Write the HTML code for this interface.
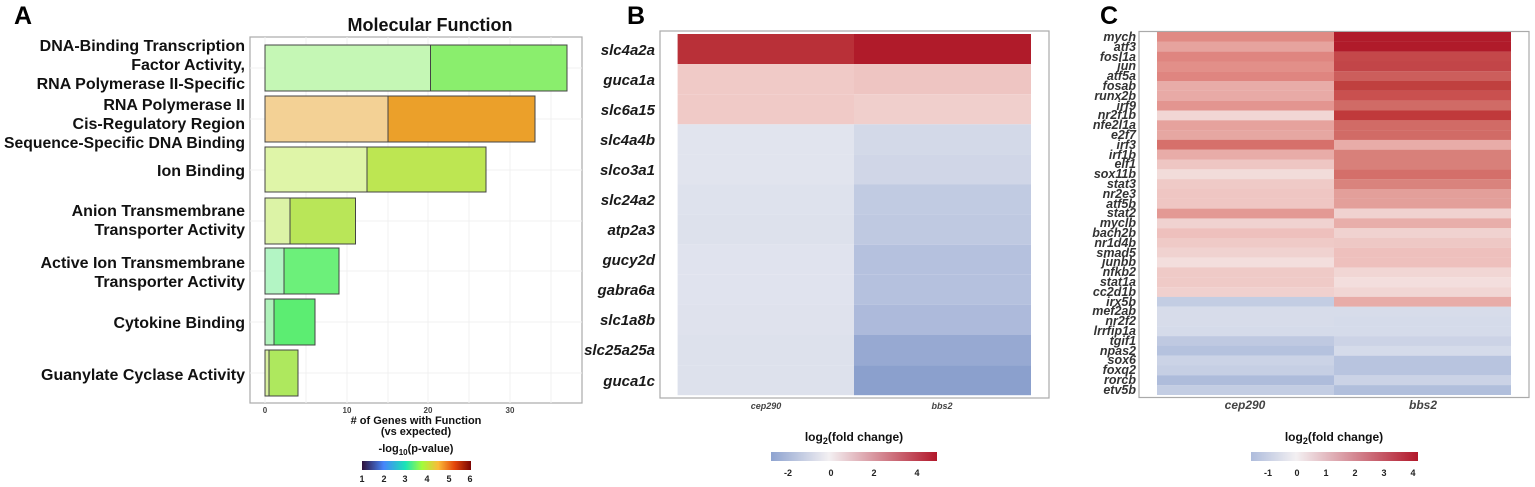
<!DOCTYPE html>
<html><head><meta charset="utf-8"><style>
body{margin:0;background:#fff}
svg{display:block}
text{font-family:"Liberation Sans",Arial,sans-serif;font-weight:bold}
.la{font-size:16px;fill:#111;text-anchor:end}
.lb{font-size:15px;fill:#1a1a1a;font-style:italic;text-anchor:end}
.lc{font-size:12.5px;fill:#333;font-style:italic;text-anchor:end}
</style></head><body>
<svg width="1535" height="487" viewBox="0 0 1535 487" xmlns="http://www.w3.org/2000/svg">
<defs>
<linearGradient id="gA" x1="0" x2="1"><stop offset="0" stop-color="#30123b"/><stop offset="0.2" stop-color="#4686fb"/><stop offset="0.4" stop-color="#1ae4b6"/><stop offset="0.55" stop-color="#a2fc3c"/><stop offset="0.7" stop-color="#fabb39"/><stop offset="0.85" stop-color="#e4460a"/><stop offset="1" stop-color="#7a0403"/></linearGradient>
<linearGradient id="gB" x1="0" x2="1"><stop offset="0" stop-color="#8ea3d0"/><stop offset="0.35" stop-color="#f3f0f2"/><stop offset="1" stop-color="#b2182b"/></linearGradient>
<linearGradient id="gC" x1="0" x2="1"><stop offset="0" stop-color="#aebcdc"/><stop offset="0.27" stop-color="#f3f0f2"/><stop offset="1" stop-color="#b2182b"/></linearGradient>
</defs>
<!-- Panel A -->
<text x="14" y="24" style="font-size:25px">A</text>
<text x="430" y="31" text-anchor="middle" style="font-size:18px" fill="#111">Molecular Function</text>
<rect x="250" y="37" width="332" height="366" fill="#fff" stroke="#aaa" stroke-width="1.2"/>
<g stroke="#f0f0f0" stroke-width="1">
<line x1="265" y1="37" x2="265" y2="403"/><line x1="347" y1="37" x2="347" y2="403"/><line x1="428" y1="37" x2="428" y2="403"/><line x1="510" y1="37" x2="510" y2="403"/>
<line x1="306" y1="37" x2="306" y2="403"/><line x1="388" y1="37" x2="388" y2="403"/><line x1="469" y1="37" x2="469" y2="403"/><line x1="551" y1="37" x2="551" y2="403"/>
<line x1="250" y1="68" x2="582" y2="68"/><line x1="250" y1="119" x2="582" y2="119"/><line x1="250" y1="170" x2="582" y2="170"/><line x1="250" y1="221" x2="582" y2="221"/><line x1="250" y1="271" x2="582" y2="271"/><line x1="250" y1="322" x2="582" y2="322"/><line x1="250" y1="373" x2="582" y2="373"/>
</g>
<g stroke="#444" stroke-width="1">
<rect x="265" y="45" width="165.5" height="46" fill="#c5f7b5"/><rect x="430.5" y="45" width="136.5" height="46" fill="#8aee6d"/>
<rect x="265" y="96" width="123" height="46" fill="#f3d195"/><rect x="388" y="96" width="147" height="46" fill="#eba02a"/>
<rect x="265" y="147" width="102" height="45" fill="#dff5a8"/><rect x="367" y="147" width="119" height="45" fill="#bde652"/>
<rect x="265" y="198" width="25" height="46" fill="#dcf3a6"/><rect x="290" y="198" width="65.5" height="46" fill="#b9e658"/>
<rect x="265" y="248" width="19" height="46" fill="#b3f5c4"/><rect x="284" y="248" width="55" height="46" fill="#6cf07a"/>
<rect x="265" y="299" width="9" height="46" fill="#b0f2bb"/><rect x="274" y="299" width="41" height="46" fill="#5ced72"/>
<rect x="265" y="350" width="4" height="46" fill="#d9f0a0"/><rect x="269" y="350" width="29" height="46" fill="#aee85e"/>
</g>
<g class="la">
<text x="245" y="51">DNA-Binding Transcription</text>
<text x="245" y="70">Factor Activity,</text>
<text x="245" y="89">RNA Polymerase II-Specific</text>
<text x="245" y="110">RNA Polymerase II</text>
<text x="245" y="129">Cis-Regulatory Region</text>
<text x="245" y="148" textLength="241" lengthAdjust="spacingAndGlyphs">Sequence-Specific DNA Binding</text>
<text x="245" y="176">Ion Binding</text>
<text x="245" y="216">Anion Transmembrane</text>
<text x="245" y="235">Transporter Activity</text>
<text x="245" y="268">Active Ion Transmembrane</text>
<text x="245" y="287">Transporter Activity</text>
<text x="245" y="328">Cytokine Binding</text>
<text x="245" y="380">Guanylate Cyclase Activity</text>
</g>
<g style="font-size:8px" fill="#444" text-anchor="middle">
<text x="265" y="413">0</text><text x="347" y="413">10</text><text x="428" y="413">20</text><text x="510" y="413">30</text>
</g>
<text x="416" y="424" text-anchor="middle" style="font-size:11px" fill="#111">#​ of Genes with Function</text>
<text x="416" y="435" text-anchor="middle" style="font-size:11px" fill="#111">(vs expected)</text>
<text x="416" y="452" text-anchor="middle" style="font-size:11px" fill="#111">-log<tspan dy="3" style="font-size:8px">10</tspan><tspan dy="-3">(p-value)</tspan></text>
<rect x="362" y="461" width="109" height="9" fill="url(#gA)"/>
<g style="font-size:9px" fill="#222" text-anchor="middle">
<text x="362" y="482">1</text><text x="384" y="482">2</text><text x="405" y="482">3</text><text x="427" y="482">4</text><text x="449" y="482">5</text><text x="470" y="482">6</text>
</g>

<!-- Panel B -->
<text x="627" y="24" style="font-size:25px">B</text>
<rect x="660" y="31" width="389" height="367" fill="#fff" stroke="#aaa" stroke-width="1.2"/>
<g>
<rect x="677.6" y="34" width="176.4" height="30.1" fill="#b93038"/><rect x="854" y="34" width="177" height="30.1" fill="#b01b2a"/>
<rect x="677.6" y="64.1" width="176.4" height="30.1" fill="#f0cac7"/><rect x="854" y="64.1" width="177" height="30.1" fill="#eec5c2"/>
<rect x="677.6" y="94.2" width="176.4" height="30.1" fill="#f0cac7"/><rect x="854" y="94.2" width="177" height="30.1" fill="#f0cfcc"/>
<rect x="677.6" y="124.3" width="176.4" height="30.1" fill="#e1e4ee"/><rect x="854" y="124.3" width="177" height="30.1" fill="#d3d9e8"/>
<rect x="677.6" y="154.4" width="176.4" height="30.1" fill="#e1e4ee"/><rect x="854" y="154.4" width="177" height="30.1" fill="#d0d6e7"/>
<rect x="677.6" y="184.5" width="176.4" height="30.1" fill="#dee2ed"/><rect x="854" y="184.5" width="177" height="30.1" fill="#c1cbe2"/>
<rect x="677.6" y="214.6" width="176.4" height="30.1" fill="#dde1ec"/><rect x="854" y="214.6" width="177" height="30.1" fill="#bfc9e1"/>
<rect x="677.6" y="244.7" width="176.4" height="30.1" fill="#e0e3ee"/><rect x="854" y="244.7" width="177" height="30.1" fill="#b5c1de"/>
<rect x="677.6" y="274.8" width="176.4" height="30.1" fill="#e0e3ee"/><rect x="854" y="274.8" width="177" height="30.1" fill="#b5c1de"/>
<rect x="677.6" y="304.9" width="176.4" height="30.1" fill="#dfe2ed"/><rect x="854" y="304.9" width="177" height="30.1" fill="#adbadb"/>
<rect x="677.6" y="335" width="176.4" height="30.1" fill="#dde1ec"/><rect x="854" y="335" width="177" height="30.1" fill="#97a9d2"/>
<rect x="677.6" y="365.1" width="176.4" height="30.1" fill="#dde1ec"/><rect x="854" y="365.1" width="177" height="30.1" fill="#8ba0cd"/>
</g>
<g class="lb">
<text x="655" y="55">slc4a2a</text><text x="655" y="85">guca1a</text><text x="655" y="115">slc6a15</text><text x="655" y="145">slc4a4b</text>
<text x="655" y="175">slco3a1</text><text x="655" y="205">slc24a2</text><text x="655" y="235">atp2a3</text><text x="655" y="265">gucy2d</text>
<text x="655" y="295">gabra6a</text><text x="655" y="325">slc1a8b</text><text x="655" y="355">slc25a25a</text><text x="655" y="386">guca1c</text>
</g>
<g style="font-size:9px;font-style:italic" fill="#444" text-anchor="middle">
<text x="766" y="409">cep290</text><text x="942" y="409">bbs2</text>
</g>
<text x="854" y="441" text-anchor="middle" style="font-size:12px" fill="#111">log<tspan dy="3" style="font-size:9px">2</tspan><tspan dy="-3">(fold change)</tspan></text>
<rect x="771" y="452" width="166" height="9" fill="url(#gB)"/>
<g style="font-size:9px" fill="#222" text-anchor="middle">
<text x="788" y="476">-2</text><text x="831" y="476">0</text><text x="874" y="476">2</text><text x="917" y="476">4</text>
</g>

<!-- Panel C -->
<text x="1100" y="24" style="font-size:25px">C</text>
<rect x="1139" y="31.5" width="390" height="366" fill="#fff" stroke="#aaa" stroke-width="1.2"/>
<g>
<rect x="1157" y="32" width="177" height="9.9" fill="#e08a84"/><rect x="1334" y="32" width="177" height="9.9" fill="#b01b2a"/>
<rect x="1157" y="41.8" width="177" height="9.9" fill="#e6a39e"/><rect x="1334" y="41.8" width="177" height="9.9" fill="#b01b2a"/>
<rect x="1157" y="51.6" width="177" height="9.9" fill="#df8580"/><rect x="1334" y="51.6" width="177" height="9.9" fill="#c4484a"/>
<rect x="1157" y="61.4" width="177" height="9.9" fill="#e28f89"/><rect x="1334" y="61.4" width="177" height="9.9" fill="#c24548"/>
<rect x="1157" y="71.2" width="177" height="9.9" fill="#df8580"/><rect x="1334" y="71.2" width="177" height="9.9" fill="#cc5e5c"/>
<rect x="1157" y="81" width="177" height="9.9" fill="#e8aca8"/><rect x="1334" y="81" width="177" height="9.9" fill="#c0403f"/>
<rect x="1157" y="90.9" width="177" height="9.9" fill="#e8aaa6"/><rect x="1334" y="90.9" width="177" height="9.9" fill="#c9504f"/>
<rect x="1157" y="100.7" width="177" height="9.9" fill="#e39590"/><rect x="1334" y="100.7" width="177" height="9.9" fill="#d06b66"/>
<rect x="1157" y="110.5" width="177" height="9.9" fill="#f1d6d4"/><rect x="1334" y="110.5" width="177" height="9.9" fill="#c0393b"/>
<rect x="1157" y="120.3" width="177" height="9.9" fill="#e6a29d"/><rect x="1334" y="120.3" width="177" height="9.9" fill="#d16b66"/>
<rect x="1157" y="130.1" width="177" height="9.9" fill="#e6a7a2"/><rect x="1334" y="130.1" width="177" height="9.9" fill="#d16b66"/>
<rect x="1157" y="139.9" width="177" height="9.9" fill="#d6706b"/><rect x="1334" y="139.9" width="177" height="9.9" fill="#e8aca8"/>
<rect x="1157" y="149.7" width="177" height="9.9" fill="#e8aca8"/><rect x="1334" y="149.7" width="177" height="9.9" fill="#d8807a"/>
<rect x="1157" y="159.5" width="177" height="9.9" fill="#eec6c3"/><rect x="1334" y="159.5" width="177" height="9.9" fill="#d8807a"/>
<rect x="1157" y="169.3" width="177" height="9.9" fill="#f2dcda"/><rect x="1334" y="169.3" width="177" height="9.9" fill="#d46f6a"/>
<rect x="1157" y="179.1" width="177" height="9.9" fill="#efcac7"/><rect x="1334" y="179.1" width="177" height="9.9" fill="#d9837d"/>
<rect x="1157" y="189" width="177" height="9.9" fill="#efc6c3"/><rect x="1334" y="189" width="177" height="9.9" fill="#e39f9a"/>
<rect x="1157" y="198.8" width="177" height="9.9" fill="#efc6c3"/><rect x="1334" y="198.8" width="177" height="9.9" fill="#e39f9a"/>
<rect x="1157" y="208.6" width="177" height="9.9" fill="#e39994"/><rect x="1334" y="208.6" width="177" height="9.9" fill="#f0d2d0"/>
<rect x="1157" y="218.4" width="177" height="9.9" fill="#f0d2d0"/><rect x="1334" y="218.4" width="177" height="9.9" fill="#e8aeaa"/>
<rect x="1157" y="228.2" width="177" height="9.9" fill="#eec0bd"/><rect x="1334" y="228.2" width="177" height="9.9" fill="#f0d2d0"/>
<rect x="1157" y="238" width="177" height="9.9" fill="#efcac7"/><rect x="1334" y="238" width="177" height="9.9" fill="#eec8c5"/>
<rect x="1157" y="247.8" width="177" height="9.9" fill="#f0d2d0"/><rect x="1334" y="247.8" width="177" height="9.9" fill="#eec0bd"/>
<rect x="1157" y="257.6" width="177" height="9.9" fill="#f3dedd"/><rect x="1334" y="257.6" width="177" height="9.9" fill="#eec0bd"/>
<rect x="1157" y="267.4" width="177" height="9.9" fill="#efcac7"/><rect x="1334" y="267.4" width="177" height="9.9" fill="#f1d6d4"/>
<rect x="1157" y="277.2" width="177" height="9.9" fill="#efcac7"/><rect x="1334" y="277.2" width="177" height="9.9" fill="#f3dedd"/>
<rect x="1157" y="287.1" width="177" height="9.9" fill="#f0d0ce"/><rect x="1334" y="287.1" width="177" height="9.9" fill="#f1d6d4"/>
<rect x="1157" y="296.9" width="177" height="9.9" fill="#c3cde3"/><rect x="1334" y="296.9" width="177" height="9.9" fill="#e8aca8"/>
<rect x="1157" y="306.7" width="177" height="9.9" fill="#d7dcea"/><rect x="1334" y="306.7" width="177" height="9.9" fill="#d7dcea"/>
<rect x="1157" y="316.5" width="177" height="9.9" fill="#d7dcea"/><rect x="1334" y="316.5" width="177" height="9.9" fill="#d5dbea"/>
<rect x="1157" y="326.3" width="177" height="9.9" fill="#d5dbea"/><rect x="1334" y="326.3" width="177" height="9.9" fill="#d5dbea"/>
<rect x="1157" y="336.1" width="177" height="9.9" fill="#bfc9e1"/><rect x="1334" y="336.1" width="177" height="9.9" fill="#ccd3e6"/>
<rect x="1157" y="345.9" width="177" height="9.9" fill="#b5c2de"/><rect x="1334" y="345.9" width="177" height="9.9" fill="#d5dbea"/>
<rect x="1157" y="355.7" width="177" height="9.9" fill="#cbd3e6"/><rect x="1334" y="355.7" width="177" height="9.9" fill="#b8c4df"/>
<rect x="1157" y="365.5" width="177" height="9.9" fill="#c6cfe4"/><rect x="1334" y="365.5" width="177" height="9.9" fill="#b8c4df"/>
<rect x="1157" y="375.3" width="177" height="9.9" fill="#aebcdb"/><rect x="1334" y="375.3" width="177" height="9.9" fill="#cbd3e6"/>
<rect x="1157" y="385.1" width="177" height="9.9" fill="#c3cde3"/><rect x="1334" y="385.1" width="177" height="9.9" fill="#b1bfdc"/>
</g>
<g class="lc">
<text x="1136" y="41">mych</text><text x="1136" y="51">atf3</text><text x="1136" y="61">fosl1a</text><text x="1136" y="70">jun</text>
<text x="1136" y="80">atf5a</text><text x="1136" y="90">fosab</text><text x="1136" y="100">runx2b</text><text x="1136" y="110">irf9</text>
<text x="1136" y="119">nr2f1b</text><text x="1136" y="129">nfe2l1a</text><text x="1136" y="139">e2f7</text><text x="1136" y="149">irf3</text>
<text x="1136" y="159">irf1b</text><text x="1136" y="168">elf1</text><text x="1136" y="178">sox11b</text><text x="1136" y="188">stat3</text>
<text x="1136" y="198">nr2e3</text><text x="1136" y="208">atf5b</text><text x="1136" y="217">stat2</text><text x="1136" y="227">myclb</text>
<text x="1136" y="237">bach2b</text><text x="1136" y="247">nr1d4b</text><text x="1136" y="257">smad5</text><text x="1136" y="266">junbb</text>
<text x="1136" y="276">nfkb2</text><text x="1136" y="286">stat1a</text><text x="1136" y="296">cc2d1b</text><text x="1136" y="306">irx5b</text>
<text x="1136" y="315">mef2ab</text><text x="1136" y="325">nr2f2</text><text x="1136" y="335">lrrfip1a</text><text x="1136" y="345">tgif1</text>
<text x="1136" y="355">npas2</text><text x="1136" y="364">sox6</text><text x="1136" y="374">foxq2</text><text x="1136" y="384">rorcb</text>
<text x="1136" y="394">etv5b</text>
</g>
<g style="font-size:12px;font-style:italic" fill="#444" text-anchor="middle">
<text x="1245" y="409">cep290</text><text x="1423" y="409">bbs2</text>
</g>
<text x="1334" y="441" text-anchor="middle" style="font-size:12px" fill="#111">log<tspan dy="3" style="font-size:9px">2</tspan><tspan dy="-3">(fold change)</tspan></text>
<rect x="1251" y="452" width="167" height="9" fill="url(#gC)"/>
<g style="font-size:9px" fill="#222" text-anchor="middle">
<text x="1268" y="476">-1</text><text x="1297" y="476">0</text><text x="1326" y="476">1</text><text x="1355" y="476">2</text><text x="1384" y="476">3</text><text x="1413" y="476">4</text>
</g>
</svg>
</body></html>
